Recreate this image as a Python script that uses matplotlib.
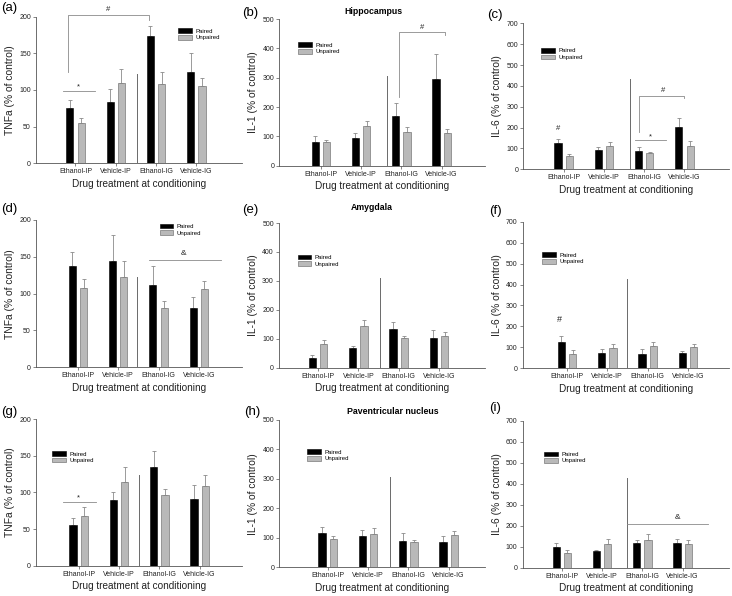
import numpy as np
import matplotlib.pyplot as plt

plt.rcParams['font.family'] = ['Liberation Sans', 'DejaVu Sans']

categories = ['Ethanol-IP', 'Vehicle-IP', 'Ethanol-IG', 'Vehicle-IG']
series_names = ['Paired', 'Unpaired']

# Hippocampus
tnfa_hip_paired = [75, 83, 174, 124]
tnfa_hip_paired_err = [12, 19, 13, 27]
tnfa_hip_unpaired = [55, 110, 108, 105]
tnfa_hip_unpaired_err = [7, 18, 16, 12]

il1_hip_paired = [82, 93, 168, 297]
il1_hip_paired_err = [19, 19, 44, 84]
il1_hip_unpaired = [80, 134, 116, 111]
il1_hip_unpaired_err = [7, 18, 17, 13]

il6_hip_paired = [125, 93, 88, 201]
il6_hip_paired_err = [19, 16, 17, 44]
il6_hip_unpaired = [66, 110, 77, 113]
il6_hip_unpaired_err = [6, 19, 8, 21]

# Amygdala
tnfa_amy_paired = [138, 144, 112, 80]
tnfa_amy_paired_err = [19, 36, 26, 15]
tnfa_amy_unpaired = [107, 123, 80, 106]
tnfa_amy_unpaired_err = [13, 22, 10, 11]

il1_amy_paired = [35, 67, 134, 104]
il1_amy_paired_err = [8, 9, 25, 27]
il1_amy_unpaired = [81, 143, 101, 111]
il1_amy_unpaired_err = [15, 22, 10, 11]

il6_amy_paired = [127, 75, 70, 72]
il6_amy_paired_err = [29, 16, 22, 11]
il6_amy_unpaired = [70, 99, 107, 100]
il6_amy_unpaired_err = [16, 17, 19, 16]

# Paventricular nucleus
tnfa_pvn_paired = [55, 89, 135, 91]
tnfa_pvn_paired_err = [10, 11, 22, 19]
tnfa_pvn_unpaired = [68, 114, 96, 109]
tnfa_pvn_unpaired_err = [12, 21, 9, 15]

il1_pvn_paired = [115, 106, 90, 87]
il1_pvn_paired_err = [21, 20, 25, 19]
il1_pvn_unpaired = [96, 112, 85, 109]
il1_pvn_unpaired_err = [11, 20, 9, 14]

il6_pvn_paired = [97, 78, 119, 116]
il6_pvn_paired_err = [19, 5, 13, 21]
il6_pvn_unpaired = [70, 113, 132, 113]
il6_pvn_unpaired_err = [14, 24, 30, 20]

# top of the vertical separator line in each panel (data units)
divider_tops = [122, 306, 433, 123, 309, 425, 123, 305, 425]

panels = [
    ('(a)', 'TNFa (% of control)', 200, tnfa_hip_paired, tnfa_hip_paired_err, tnfa_hip_unpaired, tnfa_hip_unpaired_err),
    ('(b)', 'IL-1 (% of control)', 500, il1_hip_paired, il1_hip_paired_err, il1_hip_unpaired, il1_hip_unpaired_err),
    ('(c)', 'IL-6 (% of control)', 700, il6_hip_paired, il6_hip_paired_err, il6_hip_unpaired, il6_hip_unpaired_err),
    ('(d)', 'TNFa (% of control)', 200, tnfa_amy_paired, tnfa_amy_paired_err, tnfa_amy_unpaired, tnfa_amy_unpaired_err),
    ('(e)', 'IL-1 (% of control)', 500, il1_amy_paired, il1_amy_paired_err, il1_amy_unpaired, il1_amy_unpaired_err),
    ('(f)', 'IL-6 (% of control)', 700, il6_amy_paired, il6_amy_paired_err, il6_amy_unpaired, il6_amy_unpaired_err),
    ('(g)', 'TNFa (% of control)', 200, tnfa_pvn_paired, tnfa_pvn_paired_err, tnfa_pvn_unpaired, tnfa_pvn_unpaired_err),
    ('(h)', 'IL-1 (% of control)', 500, il1_pvn_paired, il1_pvn_paired_err, il1_pvn_unpaired, il1_pvn_unpaired_err),
    ('(i)', 'IL-6 (% of control)', 700, il6_pvn_paired, il6_pvn_paired_err, il6_pvn_unpaired, il6_pvn_unpaired_err),
]

# layout in pixels: left, top, bottom of each axes box
W, H = 732, 596
boxes = [(36, 16.7, 163.3), (279.3, 19, 165.7), (523.3, 23.3, 169.3),
         (36, 220, 367.3), (279, 223, 367.7), (522.7, 221.7, 368.3),
         (36, 419, 565.7), (279.3, 420, 567.3), (522.7, 420.7, 567.7)]
ax_width = 206
xlefts = [-0.98, -1.03, -1.0, -1.04, -0.97, -1.1, -1.06, -1.2, -0.97]
divider_x = [1.52, 1.64, 1.65, 1.47, 1.53, 1.48, 1.5, 1.55, 1.62]
legend_pos = [(0.69, 0.92), (0.09, 0.84), (0.085, 0.83), (0.6, 0.975), (0.09, 0.78),
              (0.095, 0.79), (0.08, 0.78), (0.135, 0.80), (0.105, 0.79)]
label_pos = [(1, 8), (242, 13), (487, 15), (1, 209), (242, 210), (489, 211),
             (1, 412), (244, 412), (489, 408)]
titles = {1: ('Hippocampus', 373, 11), 4: ('Amygdala', 372, 207),
          7: ('Paventricular nucleus', 393, 412)}

black = '#000000'
grey = '#b9b9b9'
edge = '#7a7a7a'
line_grey = '#8a8a8a'
width = 0.18
off = 0.14

fig = plt.figure(figsize=(W / 100, H / 100), dpi=100)
axes = []
x = np.arange(len(categories))
for i, (tag, ylab, ymax, p, pe, u, ue) in enumerate(panels):
    left, top, bottom = boxes[i]
    ax = fig.add_axes([left / W, 1 - bottom / H, ax_width / W, (bottom - top) / H])
    axes.append(ax)
    b1 = ax.bar(x - off, p, width, color=black, edgecolor=black, linewidth=0.4, label=series_names[0], zorder=2)
    b2 = ax.bar(x + off, u, width, color=grey, edgecolor=edge, linewidth=0.5, label=series_names[1], zorder=2)
    ax.errorbar(x - off, p, yerr=[np.zeros(4), pe], fmt='none', ecolor=line_grey,
                elinewidth=0.6, capsize=1.6, capthick=0.6, zorder=1)
    ax.errorbar(x + off, u, yerr=[np.zeros(4), ue], fmt='none', ecolor=line_grey,
                elinewidth=0.6, capsize=1.6, capthick=0.6, zorder=1)
    ax.plot([divider_x[i]] * 2, [0, divider_tops[i]], color='#6a6a6a', lw=0.7, zorder=1)

    ax.set_xlim(xlefts[i], xlefts[i] + ax_width / 40.3)
    ax.set_ylim(0, ymax)
    ax.set_yticks(np.arange(0, ymax + 1, 100 if ymax > 200 else 50))
    ax.set_xticks(x)
    ax.set_xticklabels(categories)
    for s in ['top', 'right']:
        ax.spines[s].set_visible(False)
    for s in ['left', 'bottom']:
        ax.spines[s].set_color('#555555')
        ax.spines[s].set_linewidth(0.6)
    ax.tick_params(labelsize=5.0, length=2.2, width=0.5, color='#555555', pad=1.5, labelcolor='#222222')
    ax.set_ylabel(ylab, fontsize=7.4, labelpad=3, color='#222222')
    ax.set_xlabel('Drug treatment at conditioning', fontsize=7.2, labelpad=2.5, color='#222222')
    ax.legend(handles=[b1, b2], loc='upper left', bbox_to_anchor=legend_pos[i], frameon=False,
              fontsize=4.3, handlelength=2.3, handleheight=0.8, labelspacing=0.2,
              handletextpad=0.6, borderpad=0, borderaxespad=0)
    fig.text(label_pos[i][0] / W, 1 - label_pos[i][1] / H, tag, fontsize=9.5, va='center', ha='left')
    if i in titles:
        t, tx, ty = titles[i]
        fig.text(tx / W, 1 - ty / H, t, fontsize=6.3, weight='bold', ha='center', va='center')


def bracket(ax, x0, x1, y, left_to=None, right_to=None):
    xs, ys = [x0, x1], [y, y]
    if left_to is not None:
        xs, ys = [x0] + xs, [left_to] + ys
    if right_to is not None:
        xs, ys = xs + [x1], ys + [right_to]
    ax.plot(xs, ys, color=line_grey, lw=0.6, clip_on=False, zorder=3)


def mark(ax, xm, ym, s, size=5.5):
    ax.text(xm, ym, s, fontsize=size, ha='center', va='center', color='#222222', clip_on=False)


# (a)
bracket(axes[0], -0.19, 1.82, 203, left_to=125, right_to=196)
mark(axes[0], 0.81, 210, '#')
bracket(axes[0], -0.31, 0.49, 98.6)
mark(axes[0], 0.08, 104, '*')
# (b)
bracket(axes[1], 1.93, 3.07, 455, left_to=235, right_to=445)
mark(axes[1], 2.52, 470, '#')
# (c)
mark(axes[2], -0.14, 197, '#')
bracket(axes[2], 1.86, 2.99, 353, left_to=181, right_to=340)
mark(axes[2], 2.47, 380, '#')
bracket(axes[2], 1.78, 2.55, 141)
mark(axes[2], 2.15, 156, '*')
# (d)
bracket(axes[3], 1.77, 3.54, 146)
mark(axes[3], 2.61, 154, '&', 6)
# (f)
mark(axes[5], -0.2, 235, '#', 6.5)
# (g)
bracket(axes[6], -0.39, 0.42, 87)
mark(axes[6], 0.0, 93, '*')
# (i)
bracket(axes[8], 1.62, 3.62, 208)
mark(axes[8], 2.87, 240, '&', 6)

plt.savefig('out.png', dpi=100)
